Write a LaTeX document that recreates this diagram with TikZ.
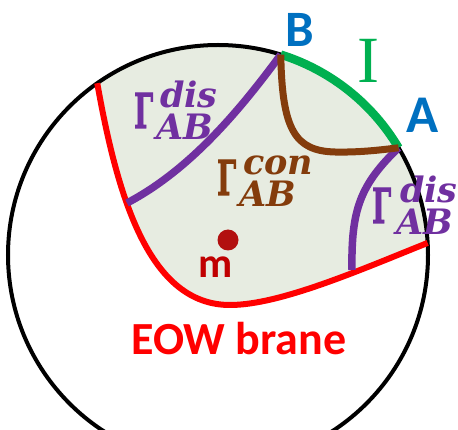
\documentclass[tikz,border=0pt]{standalone}
\usepackage{fontspec}
\usepackage{graphicx}
\setmainfont{Carlito}
\newfontfamily\gfont{Liberation Serif}
\newfontfamily\sfont{DejaVu Serif}
\newfontfamily\gamfont[UprightFont={* Bold},FakeBold=2.5]{DejaVu Serif}
\usetikzlibrary{calc}
\definecolor{fillc}{RGB}{231,236,225}
\definecolor{bluec}{RGB}{0,112,192}
\definecolor{greenc}{RGB}{0,176,80}
\definecolor{purplec}{RGB}{112,48,160}
\definecolor{brownc}{RGB}{132,60,12}
\definecolor{dotc}{RGB}{178,16,16}
\definecolor{mc}{RGB}{192,0,0}
\newcommand\glab[3][7pt]{%
  \resizebox{19pt}{35pt}{\gamfont Γ}\kern#1%
  \rlap{\raisebox{20pt}{\fontsize{35}{35}\selectfont\sfont\bfseries\itshape #2}}%
  \kern-4pt\raisebox{-12pt}{\fontsize{35}{35}\selectfont\sfont\bfseries\itshape #3}}
\begin{document}
\begin{tikzpicture}[x=1pt,y=-1pt,
  lbl/.style={inner sep=0pt, anchor=base},
  glbl/.style={inner sep=0pt, anchor=base west},
  bound/.style={line width=4pt, black},
  brane/.style={line width=6pt, red},
  interval/.style={line width=8.5pt, greenc},
  disc/.style={line width=7.5pt, purplec},
  conn/.style={line width=7pt, brownc}]
\useasboundingbox (0,0) rectangle (458,430);
\coordinate (O) at (218,255);
\coordinate (B) at ($(O)+(-72.6:210)$);
\coordinate (A) at ($(O)+(-30.7:210)$);
\coordinate (R1) at ($(O)+(-125.1:210)$);
\coordinate (R2) at ($(O)+(-3.3:210)$);
\coordinate (M) at (230,305);
\coordinate (P1) at (127,203);
\coordinate (P2) at (352,270);
\coordinate (K) at (335,152);
% shaded region
\begin{scope}
  \clip (O) circle (210);
  \fill[fillc] (R1) .. controls (118,200) and (150,305) .. (M)
     .. controls (280,305) and (360,270) .. (R2)
     -- (470,243) -- (470,-10) -- (97,-10) -- cycle;
\end{scope}
\draw[bound] (O) circle (210);
\draw[brane] (R1) .. controls (118,200) and (150,305) .. (M)
     .. controls (280,305) and (360,270) .. (R2);
\draw[interval] (B) arc[start angle=-72.6, end angle=-30.7, radius=210];
\draw[disc] (B) .. controls (240,110) and (190,170) .. (P1);
\draw[disc] (A) .. controls (360,185) and (351,210) .. (P2);
\draw[conn] (B) .. controls (282,130) and (295,151) .. (K)
     .. controls (360,152.5) and (380,150) .. (A);
\fill[dotc] (228,240) circle (10.5);
% labels
\node[lbl, text=bluec, font=\bfseries\fontsize{51}{51}\selectfont] (tB) at (299.5,47) {B};
\node[lbl, text=bluec, font=\bfseries\fontsize{53}{53}\selectfont] (tA) at (423,133) {A};
\node[lbl, text=greenc, font=\gfont\fontsize{66}{66}\selectfont] (tI) at (368.5,83) {I};
\node[lbl, text=red, font=\bfseries\fontsize{46}{46}\selectfont] (tE) at (239,355) {EOW brane};
\node[lbl, text=mc, font=\bfseries\fontsize{42}{42}\selectfont] (tm) at (216,278) {m};
\node[glbl, text=purplec] (g1) at (134,128) {\glab{dis}{AB}};
\node[glbl, text=brownc] (g2) at (217,195) {\glab{con}{AB}};
\node[glbl, text=purplec] (g3) at (372,223) {\glab[9pt]{dis}{AB}};
\end{tikzpicture}
\end{document}
